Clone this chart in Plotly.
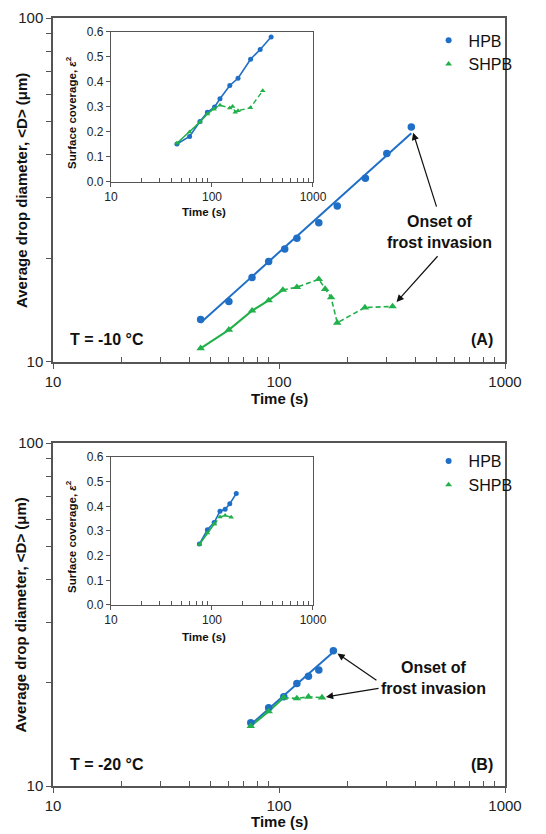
import numpy as np
import plotly.graph_objects as go

# ---- data ----
# (A) T = -10 C
t_a_hpb = [45, 60, 76, 90, 106, 120, 150, 181, 241, 300, 385]
d_a_hpb = [13.3, 15.0, 17.6, 19.6, 21.3, 22.9, 25.4, 28.4, 34.2, 40.4, 48.2]
fit_a_t = [45, 385]
fit_a_d = [13.0, 46.2]
t_a_shpb = [45, 60, 76, 90, 104, 120, 150, 160, 170, 181, 240, 318]
d_a_shpb = [10.96, 12.4, 14.1, 15.1, 16.2, 16.5, 17.4, 16.3, 15.4, 13.0, 14.4, 14.5]
cov_a_hpb = [0.152, 0.182, 0.242, 0.279, 0.300, 0.333, 0.386, 0.415, 0.491, 0.530, 0.580]
cov_a_shpb = [0.155, 0.20, 0.24, 0.272, 0.292, 0.307, 0.296, 0.302, 0.279, 0.285, 0.297, 0.365]

# (B) T = -20 C
t_b_hpb = [75, 90, 105, 120, 135, 150, 174]
d_b_hpb = [15.3, 16.9, 18.2, 19.9, 20.9, 21.8, 24.8]
fit_b_t = [75, 174]
fit_b_d = [15.1, 24.6]
t_b_shpb = [75, 90, 105, 120, 135, 155]
d_b_shpb = [14.96, 16.5, 18.1, 18.0, 18.2, 18.1]
cov_b_hpb = [0.247, 0.305, 0.334, 0.380, 0.388, 0.410, 0.452]
cov_b_shpb = [0.245, 0.292, 0.328, 0.357, 0.363, 0.356]

# index where the SHPB curve turns from solid to dashed
split_a = 4
split_b = 2

x_ticks = [10, 100, 1000]
x_minor = [20, 30, 40, 50, 60, 70, 80, 90, 200, 300, 400, 500, 600, 700, 800, 900]
y_ticks = [10, 100]
y_minor = [20, 30, 40, 50, 60, 70, 80, 90]

BLUE = "#1f6fc6"
GREEN = "#22b04a"
AXC = "#555555"
FONT = "Liberation Sans, Arial, sans-serif"
DASH = "5px,3px"

fig = go.Figure()


def add_panel(xa, ya, xi, yi, t_h, d_h, ft, fd, t_s, d_s, c_h, c_s, split, leg):
    # main panel
    fig.add_trace(go.Scatter(x=ft, y=fd, mode="lines", line=dict(color=BLUE, width=2),
                             xaxis=xa, yaxis=ya, showlegend=False))
    fig.add_trace(go.Scatter(x=t_s[:split + 1], y=d_s[:split + 1], mode="lines",
                             line=dict(color=GREEN, width=2), xaxis=xa, yaxis=ya, showlegend=False))
    fig.add_trace(go.Scatter(x=t_s[split:], y=d_s[split:], mode="lines",
                             line=dict(color=GREEN, width=1.6, dash=DASH),
                             xaxis=xa, yaxis=ya, showlegend=False))
    fig.add_trace(go.Scatter(x=t_h, y=d_h, mode="markers",
                             marker=dict(color=BLUE, size=7.5, symbol="circle"),
                             xaxis=xa, yaxis=ya, showlegend=False))
    fig.add_trace(go.Scatter(x=t_s, y=d_s, mode="markers",
                             marker=dict(color=GREEN, size=7.5, symbol="triangle-up"),
                             xaxis=xa, yaxis=ya, showlegend=False))
    # inset
    fig.add_trace(go.Scatter(x=t_h, y=c_h, mode="lines+markers",
                             line=dict(color=BLUE, width=1.6), marker=dict(color=BLUE, size=5),
                             xaxis=xi, yaxis=yi, showlegend=False))
    fig.add_trace(go.Scatter(x=t_s[:split + 1], y=c_s[:split + 1], mode="lines+markers",
                             line=dict(color=GREEN, width=1.6),
                             marker=dict(color=GREEN, size=5, symbol="triangle-up"),
                             xaxis=xi, yaxis=yi, showlegend=False))
    fig.add_trace(go.Scatter(x=t_s[split:], y=c_s[split:], mode="lines+markers",
                             line=dict(color=GREEN, width=1.4, dash=DASH),
                             marker=dict(color=GREEN, size=5, symbol="triangle-up"),
                             xaxis=xi, yaxis=yi, showlegend=False))
    # legend entries
    fig.add_trace(go.Scatter(x=[None], y=[None], mode="markers", name="HPB",
                             marker=dict(color=BLUE, size=6, symbol="circle"),
                             xaxis=xa, yaxis=ya, legend=leg))
    fig.add_trace(go.Scatter(x=[None], y=[None], mode="markers", name="SHPB",
                             marker=dict(color=GREEN, size=6, symbol="triangle-up"),
                             xaxis=xa, yaxis=ya, legend=leg))


add_panel("x", "y", "x3", "y3", t_a_hpb, d_a_hpb, fit_a_t, fit_a_d,
          t_a_shpb, d_a_shpb, cov_a_hpb, cov_a_shpb, split_a, "legend")
add_panel("x2", "y2", "x4", "y4", t_b_hpb, d_b_hpb, fit_b_t, fit_b_d,
          t_b_shpb, d_b_shpb, cov_b_hpb, cov_b_shpb, split_b, "legend2")


def main_x(anchor):
    return dict(type="log", range=[1, 3], domain=[0, 1], anchor=anchor, automargin=False,
                tickvals=x_ticks, ticktext=[str(v) for v in x_ticks],
                ticks="outside", ticklen=5, tickcolor=AXC, tickwidth=1.2,
                showline=True, linecolor=AXC, linewidth=1.5, mirror=True, showgrid=False,
                zeroline=False, tickfont=dict(size=15, color="#222"),
                minor=dict(tickvals=x_minor, ticks="inside", ticklen=5, tickcolor=AXC, showgrid=False))


def main_y(anchor, dom):
    return dict(type="log", range=[1, 2], domain=dom, anchor=anchor, automargin=False,
                tickvals=y_ticks, ticktext=[str(v) for v in y_ticks],
                ticks="outside", ticklen=5, tickcolor=AXC, tickwidth=1.2,
                showline=True, linecolor=AXC, linewidth=1.5, mirror=True, showgrid=False,
                zeroline=False, tickfont=dict(size=15, color="#222"),
                minor=dict(tickvals=y_minor, ticks="outside", ticklen=5, tickcolor=AXC, showgrid=False))


def inset_x(anchor):
    return dict(type="log", range=[1, 3], domain=[0.1283, 0.5752], anchor=anchor, automargin=False,
                tickvals=x_ticks, ticktext=[str(v) for v in x_ticks],
                ticks="outside", ticklen=4, tickcolor=AXC,
                showline=True, linecolor=AXC, linewidth=1.2, mirror=True, showgrid=False,
                zeroline=False, tickfont=dict(size=12, color="#222"),
                minor=dict(tickvals=x_minor, ticks="inside", ticklen=4, tickcolor=AXC, showgrid=False))


def inset_y(anchor, dom):
    return dict(range=[0, 0.6], dtick=0.1, tickformat=".1f", domain=dom, anchor=anchor,
                automargin=False, ticks="outside", ticklen=4, tickcolor=AXC,
                showline=True, linecolor=AXC, linewidth=1.2, mirror=True, showgrid=False,
                zeroline=False, tickfont=dict(size=12, color="#222"))


fig.update_layout(
    width=546, height=834,
    margin=dict(l=53, r=41, t=18, b=48),
    paper_bgcolor="white", plot_bgcolor="white",
    font=dict(family=FONT, color="#111"),
    xaxis=main_x("y"), yaxis=main_y("x", [0.5521, 1]),
    xaxis2=main_x("y2"), yaxis2=main_y("x2", [0, 0.4466]),
    xaxis3=inset_x("y3"), yaxis3=inset_y("x3", [0.7865, 0.9818]),
    xaxis4=inset_x("y4"), yaxis4=inset_y("x4", [0.2357, 0.4284]),
    legend=dict(x=0.831, y=0.993, xanchor="left", yanchor="top", bgcolor="rgba(0,0,0,0)",
                font=dict(size=16, family=FONT, color="#111"), itemwidth=30, tracegroupgap=0),
    legend2=dict(x=0.831, y=0.4452, xanchor="left", yanchor="top", bgcolor="rgba(0,0,0,0)",
                 font=dict(size=16, family=FONT, color="#111"), itemwidth=30, tracegroupgap=0),
    showlegend=True,
)

ytitle = "Average drop diameter, &lt;D&gt; (μm)"
bold15 = dict(size=15, family=FONT, color="#111")
bold16 = dict(size=16, family=FONT, color="#111")
bold11 = dict(size=11.5, family=FONT, color="#111")

annots = []
# axis titles
for yc in [0.776, 0.2233]:
    annots.append(dict(text="<b>" + ytitle + "</b>", xref="paper", yref="paper", x=-0.0708, y=yc,
                       xanchor="center", yanchor="middle",
                       textangle=-90, showarrow=False, font=bold15))
for yc in [0.5052, -0.0456]:
    annots.append(dict(text="<b>Time (s)</b>", xref="paper", yref="paper", x=0.5, y=yc,
                       xanchor="center", yanchor="middle", showarrow=False, font=bold15))
for yc in [0.8776, 0.3255]:
    annots.append(dict(text="<b>Surface coverage, <i>ε</i><sup>2</sup></b>", xref="paper", yref="paper",
                       x=0.0398, y=yc, xanchor="center", yanchor="middle",
                       textangle=-90, showarrow=False, font=bold11))
for yc in [0.7474, 0.194]:
    annots.append(dict(text="<b>Time (s)</b>", xref="paper", yref="paper", x=0.334, y=yc,
                       xanchor="center", yanchor="middle", showarrow=False, font=bold11))

# panel labels
for xr, yr, tlab, plab in [("x domain", "y domain", "T = -10 °C", "(A)"),
                           ("x2 domain", "y2 domain", "T = -20 °C", "(B)")]:
    annots.append(dict(text="<b>" + tlab + "</b>", xref=xr, yref=yr, x=0.033, y=0.064,
                       xanchor="left", yanchor="middle", showarrow=False, font=bold16))
    annots.append(dict(text="<b>" + plab + "</b>", xref=xr, yref=yr, x=0.978, y=0.064,
                       xanchor="right", yanchor="middle", showarrow=False, font=bold16))

# frost invasion labels
annots.append(dict(text="<b>Onset of<br>frost invasion</b>", xref="paper", yref="paper",
                   x=(439 - 53) / 452, y=(786 - 232) / 768, xanchor="center", yanchor="middle",
                   showarrow=False, font=bold16))
annots.append(dict(text="<b>Onset of<br>frost invasion</b>", xref="paper", yref="paper",
                   x=(433 - 53) / 452, y=(786 - 678) / 768, xanchor="center", yanchor="middle",
                   showarrow=False, font=bold16))

# arrows pointing at the last point of each series
arrows = [
    ("x", "y", t_a_hpb[-1], d_a_hpb[-1], 500, 28.0, 6),
    ("x", "y", t_a_shpb[-1], d_a_shpb[-1], 510, 20.5, 6),
    ("x2", "y2", t_b_hpb[-1], d_b_hpb[-1], 274, 20.2, 5),
    ("x2", "y2", t_b_shpb[-1], d_b_shpb[-1], 280, 19.3, 4),
]
for xr, yr, hx, hy, tx, ty, so in arrows:
    annots.append(dict(text="", xref=xr, yref=yr, axref=xr, ayref=yr,
                       x=np.log10(hx), y=np.log10(hy), ax=np.log10(tx), ay=np.log10(ty),
                       showarrow=True, arrowhead=2, arrowsize=1.2, arrowwidth=1.2,
                       arrowcolor="#111", standoff=so))

fig.update_layout(annotations=annots)

# drop the default page margin so the figure fills the window exactly
fig.write_html("out.html", config={"displayModeBar": False},
               post_script="document.body.style.margin='0';")
